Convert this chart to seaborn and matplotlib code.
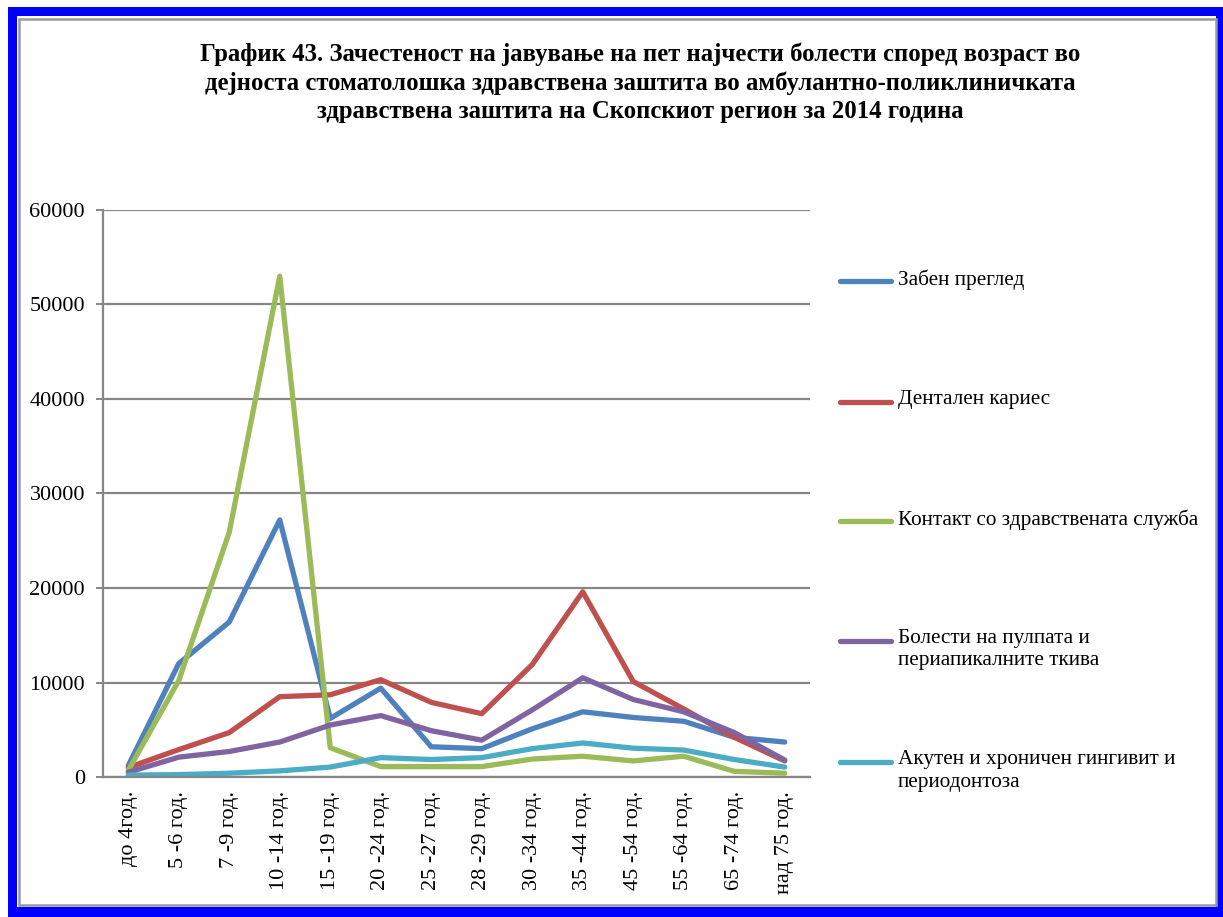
import matplotlib
matplotlib.use("Agg")
import matplotlib.pyplot as plt
from matplotlib.patches import Rectangle
from matplotlib.lines import Line2D
import numpy as np
import pandas as pd
import seaborn as sns

# Age groups
age_groups = ["до 4год.", "5 -6 год.", "7 -9 год.", "10 -14 год.", "15 -19 год.",
              "20 -24 год.", "25 -27 год.", "28 -29 год.", "30 -34 год.", "35 -44 год.",
              "45 -54 год.", "55 -64 год.", "65 -74 год.", "над 75 год."]

# Series names (legend)
series_names = ["Забен преглед",
                "Дентален кариес",
                "Контакт со здравствената служба",
                "Болести на пулпата и\nпериапикалните ткива",
                "Акутен и хроничен гингивит и\nпериодонтоза"]

# Number of visits per age group
dental_exam = [1200, 12000, 16400, 27200, 6200, 9400, 3200, 3000, 5100, 6900, 6300, 5900, 4200, 3700]
dental_caries = [1000, 2900, 4700, 8500, 8700, 10300, 7900, 6700, 11900, 19600, 10100, 7200, 4200, 1700]
health_contact = [700, 10200, 25900, 53000, 3100, 1100, 1100, 1100, 1900, 2200, 1700, 2200, 600, 400]
pulp_disease = [500, 2100, 2700, 3700, 5500, 6500, 4900, 3900, 7100, 10500, 8200, 6900, 4700, 1800]
gingivitis = [200, 250, 400, 650, 1050, 2050, 1850, 2050, 3000, 3600, 3050, 2850, 1850, 1050]

colors = ["#4F81BD", "#C0504D", "#9BBB59", "#8064A2", "#4BACC6"]
title = ("График 43. Зачестеност на јавување на пет најчести болести според возраст во\n"
         "дејноста стоматолошка здравствена заштита во амбулантно-поликлиничката\n"
         "здравствена заштита на Скопскиот регион за 2014 година")

all_values = [dental_exam, dental_caries, health_contact, pulp_disease, gingivitis]
df = pd.concat([
    pd.DataFrame({"age": age_groups, "value": vals, "series": name})
    for name, vals in zip(series_names, all_values)
], ignore_index=True)

sns.set_style("white")
plt.rcParams["font.family"] = ["Liberation Serif", "DejaVu Serif"]
plt.rcParams["text.color"] = "black"
plt.rcParams["xtick.labelcolor"] = "black"
plt.rcParams["ytick.labelcolor"] = "black"

W, H = 1223, 917
fig = plt.figure(figsize=(W / 100, H / 100), dpi=100)

# Frame: blue outer border with a thin grey inner rule
fig.patches.append(Rectangle((8 / W, 0), 1 - 8 / W, 1 - 7 / H, transform=fig.transFigure,
                             facecolor="#0000FF", edgecolor="none", zorder=-3))
fig.patches.append(Rectangle((17 / W, (H - 907) / H), (1216 - 17) / W, (907 - 16) / H,
                             transform=fig.transFigure, facecolor="white", edgecolor="none", zorder=-2))
fig.patches.append(Rectangle((18.5 / W, (H - 905) / H), (1216 - 18.5) / W, (905 - 18.5) / H,
                             transform=fig.transFigure, facecolor="none", edgecolor="#9A9A9A",
                             linewidth=1.8, zorder=-1))

ax = fig.add_axes([103 / W, (H - 777) / H, (810 - 103) / W, (777 - 210) / H])
ax.set_facecolor("none")

sns.lineplot(data=df, x="age", y="value", hue="series", hue_order=series_names,
             palette=colors, linewidth=3.8, sort=False, legend=False, ax=ax)
for ln in ax.get_lines():
    ln.set_solid_capstyle("round")
    ln.set_solid_joinstyle("round")

ax.set_xlim(-0.5, len(age_groups) - 0.5)
ax.set_ylim(0, 60000)
ax.set_yticks(np.arange(0, 60001, 10000))
ax.set_yticklabels([str(v) for v in range(0, 60001, 10000)], fontsize=16, color="black")
ax.yaxis.grid(True, color="#868686", linewidth=1.6)
ax.xaxis.grid(False)
ax.set_axisbelow(True)

ax.set_xticks(np.arange(len(age_groups)))
ax.set_xticklabels(age_groups, rotation=90, fontsize=16, va="top", ha="center", color="black")
ax.set_xticks(np.arange(-0.5, len(age_groups)), minor=True)
ax.tick_params(axis="x", which="major", length=0, pad=10)
ax.tick_params(axis="x", which="minor", length=6, width=1.4, color="#868686", direction="out")
ax.tick_params(axis="y", which="major", length=5, width=1.4, color="#868686", pad=8,
               direction="out", left=True)
ax.set_xlabel("")
ax.set_ylabel("")

for side in ("top", "right"):
    ax.spines[side].set_visible(False)
for side in ("left", "bottom"):
    ax.spines[side].set_color("#868686")
    ax.spines[side].set_linewidth(1.6)

# Title
fig.text(640 / W, 1 - 42 / H, title, ha="center", va="top", fontsize=17.8, fontweight="bold",
         linespacing=1.3, color="black")

# Legend drawn beside the plot area
legend_y = [281, 402, 521, 641, 762]
for name, color, y in zip(series_names, colors, legend_y):
    yf = 1 - y / H
    fig.lines.append(Line2D([840 / W, 891 / W], [yf, yf], transform=fig.transFigure,
                            color=color, linewidth=3.8, solid_capstyle="round"))
    fig.text(898 / W, yf + 12 / H, name, ha="left", va="top", fontsize=15.3, linespacing=1.25,
             color="black")

fig.savefig("out.png", dpi=100)
